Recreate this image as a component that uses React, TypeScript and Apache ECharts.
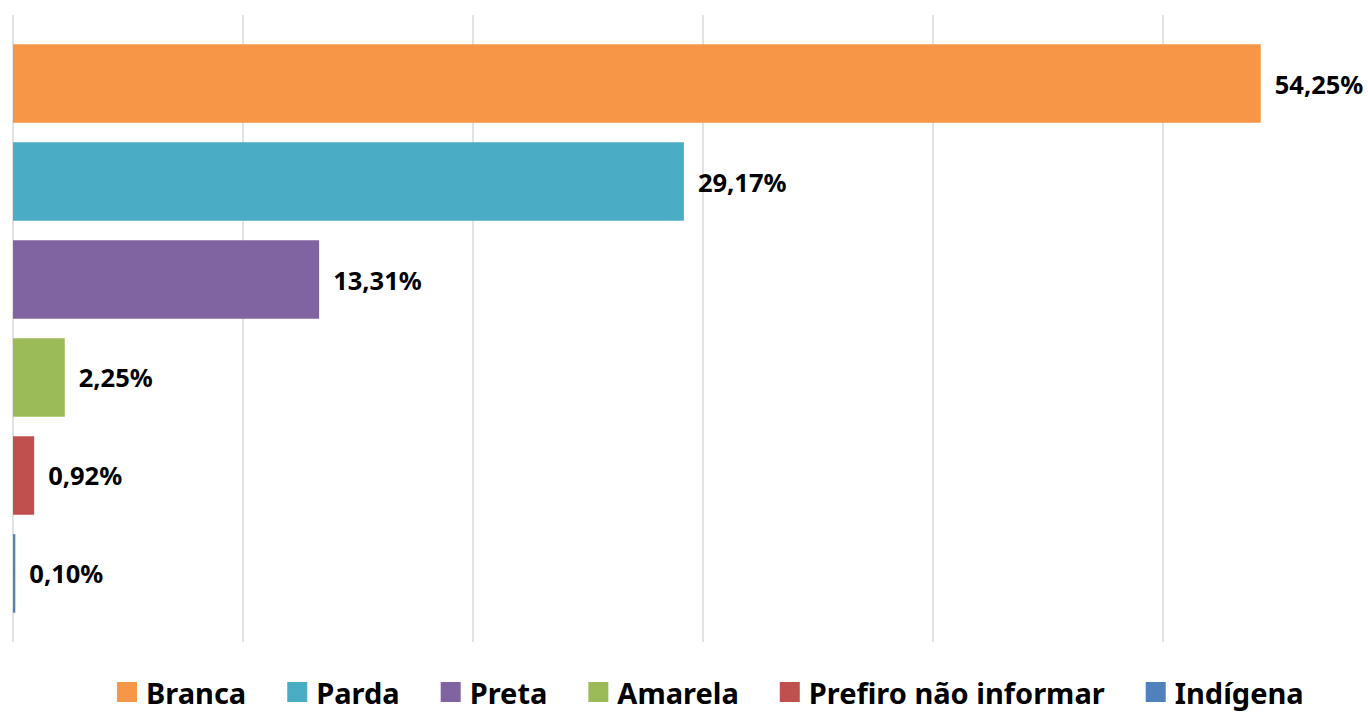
import React, { useEffect, useRef } from "react";
import * as echarts from "echarts";

const categories = ["Branca", "Parda", "Preta", "Amarela", "Prefiro não informar", "Indígena"];
const values = [54.25, 29.17, 13.31, 2.25, 0.92, 0.1];
const colors = ["#F79646", "#4BACC6", "#8064A2", "#9BBB59", "#C0504D", "#4F81BD"];
const xTicks = { min: 0, max: 60, interval: 10 };

const FONT = "'Noto Sans', 'Open Sans', sans-serif";

export default function App() {
  const ref = useRef<HTMLDivElement>(null);
  useEffect(() => {
    if (!ref.current) return;
    const chart = echarts.init(ref.current, undefined, { renderer: "svg" });
    chart.setOption({
      animation: false,
      backgroundColor: "#ffffff",
      grid: { left: 13, top: 15, width: 1380, height: 627, containLabel: false },
      xAxis: {
        type: "value",
        min: xTicks.min,
        max: xTicks.max,
        interval: xTicks.interval,
        axisLabel: { show: false },
        axisLine: { show: false },
        axisTick: { show: false },
        splitLine: { show: true, lineStyle: { color: "#d9d9d9", width: 1.5 } },
      },
      yAxis: {
        type: "category",
        data: [""],
        axisLabel: { show: false },
        axisLine: { show: false },
        axisTick: { show: false },
        splitLine: { show: false },
      },
      legend: {
        data: categories,
        left: 112,
        top: 672,
        padding: [5, 5, 0, 5],
        orient: "horizontal",
        icon: "rect",
        itemWidth: 20,
        itemHeight: 20,
        itemGap: 41,
        textStyle: {
          fontFamily: FONT,
          fontSize: 29,
          lineHeight: 30,
          fontWeight: "bold",
          color: "#000000",
          padding: [0, 0, 0, 4],
        },
      },
      series: categories.map((name, i) => ({
        name,
        type: "bar",
        data: [values[i]],
        barWidth: 78.5,
        barGap: "24.8%",
        itemStyle: { color: colors[i] },
        label: {
          show: true,
          position: "right",
          distance: 14,
          fontFamily: FONT,
          fontSize: 25.5,
          fontWeight: "bold",
          color: "#000000",
          formatter: (p: any) => Number(p.value).toFixed(2).replace(".", ",") + "%",
        },
      })),
    });
    return () => chart.dispose();
  }, []);
  return (
    <div
      style={{
        position: "absolute",
        left: 0,
        top: 0,
        width: 1368,
        height: 713,
        overflow: "hidden",
        background: "#ffffff",
      }}
    >
      <div ref={ref} style={{ width: 1400, height: 713 }} />
    </div>
  );
}
